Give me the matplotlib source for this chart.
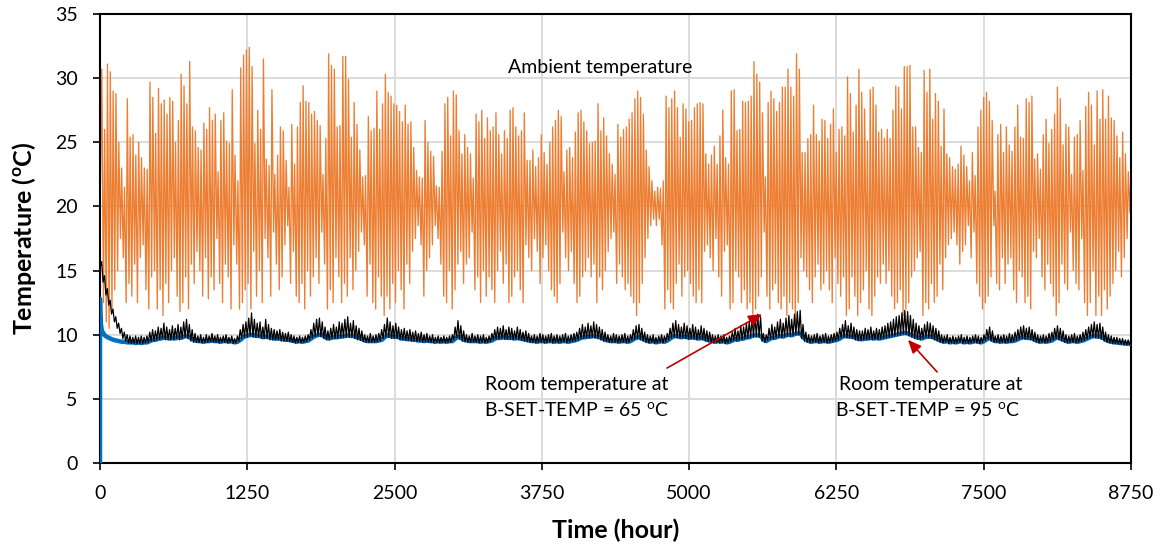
import numpy as np
import matplotlib
matplotlib.use("Agg")
import matplotlib.pyplot as plt

# ---------------- data ----------------
# Ambient temperature: daily maxima / minima (degC), one pair per day
amb_peak = [
    30.7, 26, 31.1, 30.5, 29, 28.8, 25, 23, 21.5, 28.4,
    25.4, 25.6, 24, 25, 23.8, 23, 22.9, 29.7, 28.5, 25.7,
    29.2, 28, 28.3, 27.2, 28.5, 28.2, 25, 26.7, 30.3, 29.4,
    28, 31.3, 26.2, 25.9, 24.6, 24.4, 26.5, 26, 27.7, 26.7,
    27.2, 22.7, 26.7, 27.3, 25.1, 24.9, 29.1, 24, 22, 30.8,
    31.8, 32.2, 32.4, 30.9, 24.9, 27.5, 26, 31.5, 23.7, 23.2,
    29.1, 22.5, 24, 26.2, 25.9, 23.6, 21.5, 26.4, 23.3, 26.2,
    28.1, 29.4, 28.2, 28.1, 27.2, 27.4, 26.7, 26.3, 22.5, 25.3,
    31.9, 31, 30.7, 26.2, 26.3, 31.7, 31.7, 29.9, 25.4, 28.1,
    26.4, 24.4, 22.3, 22.4, 27, 25.9, 26.1, 29, 26, 28,
    30.3, 28.9, 28.6, 28, 27.9, 27.4, 26.6, 27.9, 26.4, 26.6,
    24.6, 22.8, 22.3, 22.2, 26.7, 25, 24.3, 23.9, 21.6, 21.5,
    24.3,
    28, 28.5, 25.5, 29, 28.7, 25.9, 24.1, 25.6, 24.6, 24.1,
    22.2, 27.2, 26.6, 27.5, 25.3, 26.9, 25.9, 26.2, 27.3, 25.6,
    24.1, 25.9, 25.3, 27.5, 27.7, 26.2, 25.5, 25.9, 27.3, 23.6,
    23.6, 24.4, 23.1, 23.8, 25.6, 24.2, 23.3, 25, 26.2, 26.7,
    27.5, 27, 22.7, 24.4, 24.6, 23.8, 25.8, 27.3, 27.5, 26.6,
    25.9, 24.9, 25, 25.1, 28, 25.9, 26.9, 25.5, 24.1, 23.3,
    22.5, 26.4, 25.4, 26, 26.2, 26.8, 27.3, 28.4, 29, 28.5,
    27.2, 24.4, 23.1, 22, 21.2, 21.5, 21.4, 22, 28.6, 27.7,
    28.4, 29, 27.7, 25.4, 28, 27.6, 26.6, 26.7, 27.7, 28,
    28.1, 28, 24.1, 23.3, 24, 24.7, 23.3, 25.5, 27.5, 23.8,
    23.3, 29, 29.1, 25.9, 26, 28.2, 28.1, 28.2, 28.6, 31.3,
    30.3, 29.7, 27.3, 22.3, 28.1, 29, 28.4, 27.4, 28.1, 29.3,
    29.3, 30.7, 29.3,
    28.6, 31.9, 30.7, 24.2, 24.2, 25.3, 25.6, 27.9, 25.6, 25.1,
    26.8, 26.7, 25.3, 26.4, 27.6, 24.2, 26, 26.2, 25.5, 30.1,
    28.8, 25.8, 27.9, 30.7, 28.9, 27.6, 25.1, 29.1, 29.3, 27.9,
    25.8, 26, 25.3, 26, 25.3, 27.5, 29.4, 29.3, 27.6, 30.9,
    30.9, 31, 26.2, 26.2, 24.6, 24.2, 30.6, 28.9, 30.7, 26.8,
    28.8, 28.2, 24.7, 27.6, 24.1, 23.8, 23.1, 22.9, 23.3, 24.7,
    24, 23.1, 22, 24.2, 22.4, 26.2, 27.5, 28.5, 28.9, 28.2,
    26.7, 21.2, 25.6, 26.4, 24.2, 26.2, 24.8, 24.3, 26.2, 27.9,
    25.4, 25.3, 28.4, 28.1, 28.6, 23.7, 24.1, 22.9, 25.6, 26.8,
    24.9, 26, 27.2, 29.3, 28.4, 24.8, 26.4, 26.2, 22.5, 25.4,
    25.6, 26.7, 22.8, 27.8, 28.9, 27.9, 24.8, 29, 26.8, 29.1,
    26.8, 28.6, 26.9, 26.7, 25.5, 23.8, 25.8, 24.1, 22.7, 23.3,
]
amb_trough = [
    19.0, 12.5, 11.0, 10.5, 12.0, 13.5, 15.0, 17.5, 16.0, 12.5,
    14.0, 13.0, 15.5, 12.5, 16.0, 17.0, 13.5, 12.0, 14.5, 15.0,
    12.0, 13.5, 11.5, 14.0, 12.5, 15.0, 16.0, 13.0, 11.8, 12.5,
    14.5, 12.0, 15.5, 14.0, 16.5, 15.0, 13.0, 16.0, 12.8, 14.5,
    13.5, 17.5, 14.0, 12.5, 15.5, 14.5, 12.0, 17.0, 15.5, 12.0,
    12.5, 13.5, 14.0, 12.0, 16.5, 13.0, 15.0, 12.5, 17.5, 16.0,
    13.0, 18.0, 15.5, 13.5, 14.5, 17.0, 18.5, 14.0, 16.5, 13.0,
    12.5, 14.0, 12.0, 15.0, 13.0, 14.5, 16.0, 14.0, 18.0, 15.5,
    12.0, 13.5, 12.5, 16.0, 14.5, 12.5, 14.0, 13.0, 16.0, 13.5,
    15.0, 16.5, 18.0, 17.0, 13.0, 15.5, 12.5, 12.0, 14.5, 13.0,
    11.5, 13.0, 12.0, 14.0, 12.5, 15.0, 13.5, 12.0, 15.5, 14.0,
    16.5, 17.5, 18.5, 17.0, 13.0, 15.0, 16.0, 17.0, 18.5, 17.5,
    15.5,
    13.0, 12.5, 15.0, 12.0, 13.5, 15.5, 16.5, 14.0, 15.5, 16.0,
    18.0, 13.5, 14.5, 12.5, 15.0, 13.0, 14.5, 13.5, 12.5, 15.0,
    16.5, 14.0, 15.5, 12.5, 13.0, 14.5, 15.0, 13.5, 12.5, 17.0,
    16.0, 15.0, 17.5, 16.5, 14.0, 16.0, 17.0, 15.0, 13.5, 13.0,
    12.5, 14.0, 18.0, 16.0, 15.0, 16.5, 14.0, 12.5, 13.0, 14.5,
    15.0, 16.0, 14.5, 15.5, 12.5, 14.5, 13.5, 15.0, 16.5, 17.5,
    18.0, 14.0, 15.5, 14.5, 13.5, 14.0, 13.0, 12.5, 11.5, 12.5,
    14.0, 16.0, 17.5, 18.5, 19.0, 18.5, 19.0, 17.0, 12.0, 13.5,
    12.5, 12.0, 14.0, 15.5, 13.0, 14.5, 15.0, 14.0, 13.0, 12.5,
    13.5, 12.5, 16.5, 17.0, 16.0, 15.0, 17.5, 14.5, 13.0, 16.5,
    17.0, 12.0, 12.5, 15.0, 14.5, 12.5, 13.5, 12.0, 12.5, 11.5,
    12.0, 13.0, 14.5, 18.0, 13.0, 12.0, 13.5, 14.0, 12.5, 12.0,
    13.0, 11.5, 12.5,
    12.0, 11.0, 12.5, 16.0, 15.0, 14.5, 13.5, 12.5, 14.5, 15.5,
    13.5, 14.0, 15.0, 13.5, 12.5, 16.0, 14.0, 13.0, 14.5, 11.5,
    12.0, 14.5, 13.0, 11.5, 12.5, 13.5, 15.0, 12.0, 11.5, 13.0,
    14.5, 14.0, 15.5, 14.0, 15.0, 13.0, 12.0, 12.5, 13.5, 11.5,
    12.0, 12.5, 14.5, 15.0, 16.0, 16.5, 11.5, 12.5, 12.0, 14.0,
    12.5, 13.0, 15.5, 13.5, 16.0, 17.0, 17.5, 18.0, 17.0, 15.5,
    16.5, 17.0, 18.5, 16.0, 18.0, 14.0, 13.0, 12.0, 12.5, 13.0,
    14.5, 18.5, 14.0, 13.5, 16.0, 14.0, 15.5, 16.0, 13.5, 12.5,
    15.0, 14.5, 12.5, 13.0, 12.0, 16.5, 16.0, 17.5, 14.5, 13.5,
    15.5, 14.0, 13.0, 11.5, 12.5, 15.5, 14.0, 13.5, 18.0, 15.0,
    14.0, 13.5, 17.5, 12.5, 11.5, 12.5, 15.0, 11.5, 13.0, 11.5,
    13.5, 12.0, 13.0, 14.0, 15.0, 16.5, 14.5, 16.0, 17.5, 19.5,
]

# Room temperature, B-SET-TEMP = 65 C (black): daily max / min
room65_peak = [
    15.7, 14.6, 13.6, 12.7, 12.0, 11.4, 10.9, 10.5, 10.2, 10.0,
    9.9, 9.8, 9.9, 9.8, 9.9, 9.8, 9.9,
    10.2, 10.4, 10.3, 10.6, 10.5, 10.9, 10.6, 10.4, 10.7, 10.5, 10.8, 10.6, 11.0, 11.2, 10.8, 10.4,
    10.1, 9.9, 10.0, 9.8, 10.0, 9.9, 10.1, 9.9, 10.0, 9.8, 9.9, 10.0, 9.8, 9.9, 9.7, 9.9,
    10.4, 10.8, 11.0, 11.3, 11.7, 11.2, 10.9, 11.0, 10.6, 11.2,
    10.8, 10.5, 10.4, 10.3, 10.4, 10.2, 10.1, 10.2, 10.0, 9.9, 9.8, 9.9,
    9.8, 9.9, 10.0,
    10.4, 10.9, 11.2, 11.3, 11.0, 10.6, 10.3,
    10.5, 10.8, 10.6, 11.0, 10.9, 11.2, 11.4, 10.9, 11.1, 10.7, 10.5, 10.3,
    10.0, 9.9, 10.1, 9.9, 10.0, 10.1, 10.4,
    10.8, 11.3, 11.0, 10.7, 10.9, 10.6, 10.4,
    10.5, 10.3, 10.4, 10.2, 10.3, 10.1, 10.2, 10.0, 10.1, 9.9, 10.0, 9.8, 9.9, 9.8, 9.9, 9.8, 9.9, 10.0,
    10.6, 11.1, 10.7, 10.3,
    10.0, 9.9, 10.1, 9.9, 10.0, 9.9, 10.0, 9.8, 9.9, 10.1,
    10.4, 10.6, 10.5, 10.7, 10.4, 10.6, 10.5, 10.3, 10.6, 10.4, 10.2, 10.3, 10.1,
    9.9, 10.0, 9.9, 10.1, 10.0, 9.9, 10.0, 10.1, 9.9, 10.0, 9.9, 10.0, 10.1, 9.9, 10.0, 10.1, 10.2,
    10.5, 10.8, 10.6, 10.9, 10.7, 11.0, 10.8, 10.6, 10.4, 10.2,
    10.0, 9.9, 10.1, 10.0, 9.9, 10.0, 10.1, 9.9, 10.0,
    10.4, 10.7, 10.8, 10.5, 10.2,
    10.0, 9.9, 10.0, 9.8, 9.9, 10.0, 9.9, 10.1,
    10.5, 10.9, 11.1, 10.8, 10.6, 10.9, 10.7, 10.5, 10.8, 10.6, 10.4, 10.7, 10.5, 10.3, 10.2,
    10.0, 9.9, 10.0, 9.9, 10.0, 9.8, 9.9,
    10.2, 10.5, 10.3, 10.7, 10.6, 10.9, 11.0, 11.3, 11.5, 11.6, 11.4,
    10.1, 10.0,
    10.5, 10.8, 10.6, 11.0, 11.2, 10.9, 11.3, 11.5, 11.2, 11.6, 11.8, 11.9,
    10.8, 10.2, 10.0, 9.9, 10.0, 10.1, 9.9, 10.0, 10.1, 9.9, 10.0, 10.1, 10.2,
    10.5, 10.8, 11.1, 10.7, 10.9, 10.6, 10.4, 10.3,
    10.3, 10.5, 10.4, 10.6, 10.3, 10.5, 10.4, 10.6,
    10.7, 10.9, 11.0, 11.2, 11.4, 11.5, 11.7, 11.9, 11.8, 11.5, 11.2, 10.9, 10.7, 10.5,
    10.8, 11.0, 10.9, 10.7, 10.5, 10.3,
    10.0, 9.9, 10.0, 9.8, 9.9, 9.8, 9.9, 10.0, 9.8, 9.9, 9.8, 9.9, 10.0, 9.9, 9.8, 10.0,
    10.4, 10.6, 10.3,
    9.9, 10.0, 9.9, 10.0, 9.9, 10.1, 10.0, 10.2,
    10.4, 10.6, 10.7, 10.5, 10.6, 10.4, 10.2,
    10.0, 9.9, 10.0, 9.9, 10.1, 10.2,
    10.5, 10.7, 10.5, 10.3,
    10.0, 9.9, 10.0, 10.1, 9.9, 10.0, 10.2, 10.4, 10.6,
    10.8, 11.0, 10.8, 10.9, 10.6,
    10.2, 10.0, 9.9, 9.8, 9.8, 9.7, 9.7, 9.6, 9.6, 9.5,
]
room65_trough = [
    15.2, 14.1, 13.1, 12.3, 11.6, 11.0, 10.5, 10.1, 9.7, 9.5,
    9.35, 9.3, 9.3, 9.3, 9.3, 9.3, 9.35,
    9.4, 9.5, 9.5, 9.6, 9.6, 9.7, 9.6, 9.6, 9.6, 9.6, 9.7, 9.6, 9.7, 9.8, 9.7, 9.5,
    9.4, 9.4, 9.4, 9.35, 9.4, 9.4, 9.45, 9.4, 9.4, 9.35, 9.4, 9.4, 9.35, 9.4, 9.3, 9.35,
    9.5, 9.7, 9.8, 9.8, 9.9, 9.8, 9.8, 9.8, 9.7, 9.7,
    9.7, 9.6, 9.6, 9.6, 9.6, 9.5, 9.5, 9.5, 9.45, 9.4, 9.35, 9.4,
    9.35, 9.4, 9.45,
    9.6, 9.75, 9.85, 9.9, 9.85, 9.7, 9.6,
    9.6, 9.7, 9.7, 9.7, 9.75, 9.8, 9.8, 9.8, 9.8, 9.7, 9.6, 9.55,
    9.45, 9.4, 9.4, 9.4, 9.4, 9.45, 9.5,
    9.7, 9.8, 9.8, 9.7, 9.7, 9.7, 9.6,
    9.6, 9.55, 9.55, 9.5, 9.5, 9.45, 9.45, 9.4, 9.45, 9.4, 9.4, 9.35, 9.4, 9.35, 9.4, 9.35, 9.4, 9.4,
    9.6, 9.75, 9.65, 9.5,
    9.45, 9.4, 9.4, 9.4, 9.4, 9.35, 9.4, 9.35, 9.4, 9.45,
    9.6, 9.65, 9.65, 9.7, 9.65, 9.65, 9.65, 9.6, 9.65, 9.6, 9.55, 9.5, 9.45,
    9.4, 9.4, 9.35, 9.4, 9.4, 9.35, 9.4, 9.4, 9.35, 9.4, 9.35, 9.4, 9.4, 9.35, 9.4, 9.45, 9.5,
    9.6, 9.7, 9.7, 9.75, 9.75, 9.8, 9.75, 9.7, 9.6, 9.5,
    9.45, 9.4, 9.4, 9.4, 9.35, 9.4, 9.4, 9.35, 9.4,
    9.55, 9.65, 9.7, 9.6, 9.5,
    9.4, 9.35, 9.4, 9.3, 9.35, 9.4, 9.35, 9.45,
    9.6, 9.75, 9.8, 9.75, 9.7, 9.75, 9.7, 9.65, 9.7, 9.65, 9.6, 9.65, 9.6, 9.5, 9.45,
    9.4, 9.35, 9.4, 9.35, 9.4, 9.3, 9.35,
    9.45, 9.55, 9.5, 9.6, 9.6, 9.7, 9.7, 9.8, 9.85, 9.85, 9.8,
    9.5, 9.4,
    9.55, 9.65, 9.65, 9.75, 9.8, 9.75, 9.85, 9.9, 9.85, 9.95, 10.0, 10.0,
    9.7, 9.5, 9.4, 9.35, 9.4, 9.4, 9.35, 9.4, 9.4, 9.35, 9.4, 9.45, 9.5,
    9.6, 9.75, 9.8, 9.75, 9.75, 9.7, 9.6, 9.55,
    9.55, 9.6, 9.6, 9.65, 9.6, 9.65, 9.6, 9.65,
    9.7, 9.75, 9.8, 9.85, 9.9, 9.95, 10.0, 10.05, 10.0, 9.9, 9.8, 9.7, 9.65, 9.6,
    9.7, 9.75, 9.75, 9.7, 9.6, 9.5,
    9.4, 9.35, 9.4, 9.3, 9.35, 9.3, 9.35, 9.4, 9.3, 9.35, 9.3, 9.35, 9.4, 9.35, 9.3, 9.4,
    9.55, 9.65, 9.5,
    9.4, 9.4, 9.35, 9.4, 9.35, 9.4, 9.4, 9.45,
    9.55, 9.65, 9.7, 9.65, 9.65, 9.6, 9.5,
    9.4, 9.35, 9.4, 9.35, 9.4, 9.45,
    9.6, 9.7, 9.6, 9.5,
    9.4, 9.35, 9.4, 9.4, 9.35, 9.4, 9.45, 9.55, 9.65,
    9.75, 9.8, 9.75, 9.75, 9.65,
    9.5, 9.4, 9.35, 9.3, 9.3, 9.25, 9.25, 9.2, 9.2, 9.2,
]

# Room temperature, B-SET-TEMP = 95 C (blue): start-up hours, then daily values
room95_start_hours = [0, 0, 3, 8]
room95_start_vals = [0.0, 12.8, 11.5, 10.8]
room95_daily = [
    10.3, 9.95, 9.8, 9.7, 9.6, 9.55, 9.5, 9.45, 9.45, 9.4,
    9.4, 9.4, 9.35, 9.4, 9.35, 9.4, 9.4,
    9.5, 9.6, 9.6, 9.7, 9.7, 9.8, 9.75, 9.7, 9.75, 9.7, 9.8, 9.75, 9.85, 9.9, 9.8, 9.65,
    9.55, 9.5, 9.5, 9.45, 9.5, 9.5, 9.55, 9.5, 9.5, 9.45, 9.5, 9.5, 9.45, 9.5, 9.4, 9.45,
    9.6, 9.8, 9.9, 9.95, 10.0, 9.95, 9.9, 9.9, 9.8, 9.85,
    9.8, 9.75, 9.7, 9.7, 9.7, 9.65, 9.6, 9.6, 9.55, 9.5, 9.45, 9.5,
    9.45, 9.5, 9.55,
    9.7, 9.85, 9.95, 10.0, 9.95, 9.8, 9.7,
    9.75, 9.8, 9.8, 9.85, 9.85, 9.9, 9.95, 9.9, 9.9, 9.8, 9.75, 9.65,
    9.55, 9.5, 9.5, 9.5, 9.5, 9.55, 9.6,
    9.8, 9.95, 9.9, 9.85, 9.85, 9.8, 9.7,
    9.7, 9.65, 9.65, 9.6, 9.6, 9.55, 9.55, 9.5, 9.55, 9.5, 9.5, 9.45, 9.5, 9.45, 9.5, 9.45, 9.5, 9.5,
    9.7, 9.85, 9.75, 9.6,
    9.55, 9.5, 9.5, 9.5, 9.5, 9.45, 9.5, 9.45, 9.5, 9.55,
    9.7, 9.75, 9.75, 9.8, 9.75, 9.75, 9.75, 9.7, 9.75, 9.7, 9.65, 9.6, 9.55,
    9.5, 9.5, 9.45, 9.5, 9.5, 9.45, 9.5, 9.5, 9.45, 9.5, 9.45, 9.5, 9.5, 9.45, 9.5, 9.55, 9.6,
    9.7, 9.8, 9.8, 9.85, 9.85, 9.9, 9.85, 9.8, 9.7, 9.6,
    9.55, 9.5, 9.5, 9.5, 9.45, 9.5, 9.5, 9.45, 9.5,
    9.65, 9.75, 9.8, 9.7, 9.6,
    9.5, 9.45, 9.5, 9.4, 9.45, 9.5, 9.45, 9.55,
    9.7, 9.85, 9.9, 9.85, 9.8, 9.85, 9.8, 9.75, 9.8, 9.75, 9.7, 9.75, 9.7, 9.6, 9.55,
    9.5, 9.45, 9.5, 9.45, 9.5, 9.4, 9.45,
    9.55, 9.65, 9.6, 9.7, 9.7, 9.8, 9.8, 9.9, 9.95, 9.95, 9.9,
    9.6, 9.5,
    9.65, 9.75, 9.75, 9.85, 9.9, 9.85, 9.95, 10.0, 9.95, 10.05, 10.1, 10.1,
    9.8, 9.6, 9.5, 9.45, 9.5, 9.5, 9.45, 9.5, 9.5, 9.45, 9.5, 9.55, 9.6,
    9.7, 9.85, 9.9, 9.85, 9.85, 9.8, 9.7, 9.65,
    9.65, 9.7, 9.7, 9.75, 9.7, 9.75, 9.7, 9.75,
    9.8, 9.85, 9.9, 9.95, 10.0, 10.05, 10.1, 10.15, 10.1, 10.0, 9.9, 9.8, 9.75, 9.7,
    9.8, 9.85, 9.85, 9.8, 9.7, 9.6,
    9.5, 9.45, 9.5, 9.4, 9.45, 9.4, 9.45, 9.5, 9.4, 9.45, 9.4, 9.45, 9.5, 9.45, 9.4, 9.5,
    9.65, 9.75, 9.6,
    9.5, 9.5, 9.45, 9.5, 9.45, 9.5, 9.5, 9.55,
    9.65, 9.75, 9.8, 9.75, 9.75, 9.7, 9.6,
    9.5, 9.45, 9.5, 9.45, 9.5, 9.55,
    9.7, 9.8, 9.7, 9.6,
    9.5, 9.45, 9.5, 9.5, 9.45, 9.5, 9.55, 9.65, 9.75,
    9.85, 9.9, 9.85, 9.85, 9.75,
    9.6, 9.5, 9.45, 9.4, 9.4, 9.35, 9.35, 9.3, 9.3, 9.3,
]

x_ticks = [0, 1250, 2500, 3750, 5000, 6250, 7500, 8750]
y_ticks = [0, 5, 10, 15, 20, 25, 30, 35]
HOURS_PER_YEAR = 8760

# ---------------- build hourly time stamps for the daily extremes ----------------
def zigzag(lows, highs, t_low=5, t_high=15):
    n = len(highs)
    day = HOURS_PER_YEAR / n
    t = np.empty(2 * n)
    v = np.empty(2 * n)
    t[0::2] = np.arange(n) * day + t_low * day / 24
    t[1::2] = np.arange(n) * day + t_high * day / 24
    v[0::2] = lows
    v[1::2] = highs
    return t, v

amb_t, amb_v = zigzag(amb_trough, amb_peak)
amb_t[0] = 0.0
r65_t, r65_v = zigzag(room65_trough, room65_peak, t_low=2, t_high=14)
r65_t[0] = 0.0
r95_t = np.concatenate([room95_start_hours,
                        np.arange(len(room95_daily)) * HOURS_PER_YEAR / len(room95_daily) + 16])
r95_v = np.concatenate([room95_start_vals, room95_daily])

# ---------------- plot ----------------
plt.rcParams['font.family'] = ['Lato', 'DejaVu Sans']
fig = plt.figure(figsize=(11.63, 5.54), dpi=100)
ax = fig.add_axes([0.086, 0.1643, 0.8865, 0.8104])

ax.plot(amb_t, amb_v, color='#ED7D31', lw=0.95, zorder=2)
ax.plot(r95_t, r95_v, color='#0070C0', lw=3.2, zorder=3, solid_joinstyle='round')
ax.plot(r65_t, r65_v, color='black', lw=0.9, zorder=4)

ax.set_xlim(0, 8750)
ax.set_ylim(0, 35)
ax.set_xticks(x_ticks)
ax.set_yticks(y_ticks)
ax.set_xticklabels([str(v) for v in x_ticks])
ax.set_yticklabels([str(v) for v in y_ticks])
ax.grid(True, color='#D9D9D9', lw=1.3, zorder=0)
ax.set_axisbelow(True)
for s in ax.spines.values():
    s.set_color('black')
    s.set_linewidth(1.5)
ax.tick_params(axis='both', direction='out', length=5, width=1.2,
               labelsize=14, colors='black')
ax.tick_params(axis='x', pad=11)
ax.tick_params(axis='y', pad=11)

ax.set_xlabel('Time (hour)', fontsize=18, fontweight='bold', labelpad=12)
ax.set_ylabel(r'Temperature ($\mathregular{^{o}}$C)', fontsize=18,
              fontweight='bold', labelpad=12)

ax.text(4244, 30.8, 'Ambient temperature', fontsize=14, ha='center', va='center')
ax.text(3270, 6.15, 'Room temperature at', fontsize=14, ha='left', va='center')
ax.text(3260, 4.1, r'B-SET-TEMP = 65 $\mathregular{^{o}}$C', fontsize=14,
        ha='left', va='center')
ax.text(6270, 6.15, 'Room temperature at', fontsize=14, ha='left', va='center')
ax.text(6240, 4.1, r'B-SET-TEMP = 95 $\mathregular{^{o}}$C', fontsize=14,
        ha='left', va='center')

arrow_kw = dict(arrowstyle='-|>,head_length=0.8,head_width=0.35',
                color='#C00000', lw=1.2, shrinkA=0, shrinkB=0)
ax.annotate('', xy=(5618, 11.6), xytext=(4812, 7.4), arrowprops=arrow_kw, zorder=6)
ax.annotate('', xy=(6857, 9.6), xytext=(7104, 7.1), arrowprops=arrow_kw, zorder=6)

fig.savefig('out.png', dpi=100)
